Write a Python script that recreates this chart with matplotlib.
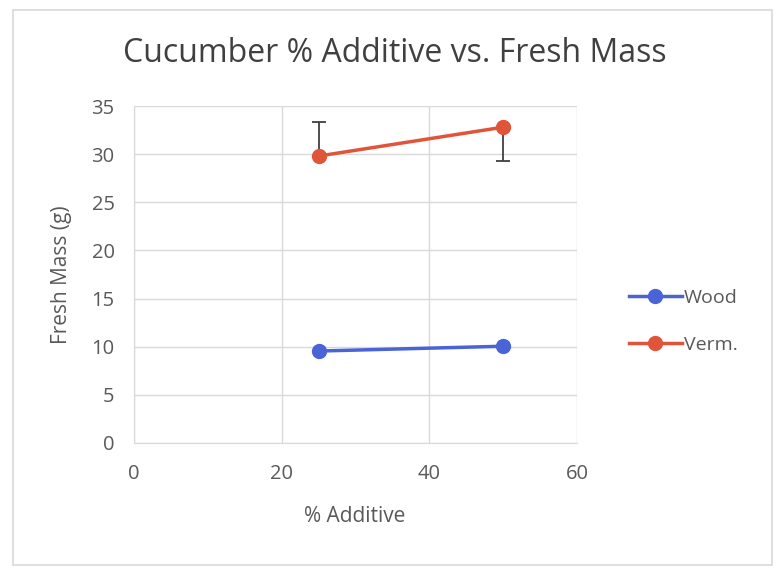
import matplotlib
matplotlib.use("Agg")
import matplotlib.pyplot as plt
from matplotlib.patches import Rectangle

plt.rcParams['font.family'] = ['Open Sans', 'DejaVu Sans']

x_vals = [25, 50]
wood = [9.55, 10.05]
verm = [29.8, 32.8]
verm_err_lower = [0, 3.5]
verm_err_upper = [3.5, 0]
x_ticks = [0, 20, 40, 60]
y_ticks = [0, 5, 10, 15, 20, 25, 30, 35]

fig = plt.figure(figsize=(7.8, 5.73), dpi=100)
fig.patch.set_facecolor('white')
fig.patches.append(Rectangle((13/780, 8/573), 759/780, 555/573, transform=fig.transFigure,
                             fill=False, edgecolor='#d9d9d9', linewidth=1.2))

ax = fig.add_axes([134/780, 1 - 443/573, (577-134)/780, (443-106)/573])
ax.set_xlim(0, 60)
ax.set_ylim(0, 35)
ax.set_xticks(x_ticks)
ax.set_yticks(y_ticks)
ax.grid(True, color='#d9d9d9', linewidth=1)
ax.set_axisbelow(True)
for s in ['top', 'right']:
    ax.spines[s].set_visible(False)
for s in ['left', 'bottom']:
    ax.spines[s].set_color('#d9d9d9')
ax.tick_params(length=0, labelsize=14.5, labelcolor='#595959')
ax.tick_params(axis='x', pad=15)
ax.tick_params(axis='y', pad=14)

ax.errorbar(x_vals, verm, yerr=[verm_err_lower, verm_err_upper], fmt='none',
            ecolor='#404040', elinewidth=1.3, capsize=5, capthick=1.3, zorder=2)
ax.plot(x_vals, wood, color='#4a63d6', marker='o', markersize=10, linewidth=2.5, label='Wood', zorder=3)
ax.plot(x_vals, verm, color='#e0553a', marker='o', markersize=10, linewidth=2.5, label='Verm.', zorder=3)

fig.text(355/780, 1 - 517/573, '% Additive', ha='center', va='center', fontsize=15, color='#595959')
fig.text(62/780, 1 - 275/573, 'Fresh Mass (g)', ha='center', va='center', rotation=90,
         fontsize=15, color='#595959')
fig.text(395/780, 1 - 53/573, 'Cucumber % Additive vs. Fresh Mass',
         ha='center', va='center', fontsize=23, color='#404040')

leg = ax.legend(loc='center left', bbox_to_anchor=(1.1, 0.36), frameon=False,
                fontsize=14, labelcolor='#595959', handlelength=2.7, handletextpad=0.1,
                labelspacing=1.5, borderaxespad=0)

fig.savefig('out.png', dpi=100)
